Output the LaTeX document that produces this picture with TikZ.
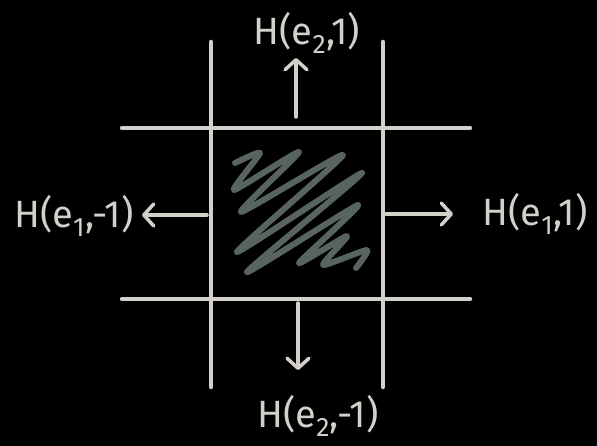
\documentclass[tikz,border=0pt]{standalone}
\usepackage{fontspec}
\setmainfont{Fira Sans}
\usetikzlibrary{arrows.meta}
\definecolor{chalk}{HTML}{D3D0C9}
\definecolor{scrib}{HTML}{586462}
\tikzset{
  gridline/.style={draw=chalk, line width=4.5pt, line cap=round},
  arr/.style={draw=chalk, line width=3.5pt, line cap=round, -{Straight Barb[length=10pt,width=22pt,line width=3.5pt,round]}},
  lbl/.style={text=chalk, font=\fontsize{38}{38}\selectfont, inner sep=0pt},
  scribble/.style={draw=scrib, line width=6pt, line cap=round, line join=round}
}
\begin{document}
\begin{tikzpicture}[x=1pt,y=-1pt]
\fill[black] (0,0) rectangle (597,446);
\useasboundingbox (0,0) rectangle (597,446);
% grid
\coordinate (vlT) at (211,42); \coordinate (vlB) at (211,387);
\coordinate (vrT) at (383,42); \coordinate (vrB) at (383,387);
\coordinate (htL) at (122,128); \coordinate (htR) at (470,128);
\coordinate (hbL) at (122,299); \coordinate (hbR) at (470,299);
\draw[gridline] (vlT) -- (vlB);
\draw[gridline] (vrT) -- (vrB);
\draw[gridline] (htL) -- (htR);
\draw[gridline] (hbL) -- (hbR);
% scribble
\draw[scribble] plot[smooth, tension=0.35] coordinates {(235,163) (260,153) (234,190) (299,152) (241,212) (343,155)
  (237,252) (362,173) (247,272) (358,205) (299,263) (347,236)
  (323,265) (367,250) (356,268)};
% labels
\node[lbl] (top) at (307,33) {H(e\textsubscript{2},1)};
\node[lbl] (bot) at (318,416) {H(e\textsubscript{2},-1)};
\node[lbl] (left) at (74,216) {H(e\textsubscript{1},-1)};
\node[lbl] (right) at (535,214) {H(e\textsubscript{1},1)};
% arrows
\coordinate (tS) at (296,117); \coordinate (tE) at (296,58);
\coordinate (bS) at (298,303); \coordinate (bE) at (298,370);
\coordinate (lS) at (207,215); \coordinate (lE) at (142,215);
\coordinate (rS) at (386,214); \coordinate (rE) at (453,214);
\draw[arr] (tS) -- (tE);
\draw[arr] (bS) -- (bE);
\draw[arr] (lS) -- (lE);
\draw[arr] (rS) -- (rE);
\end{tikzpicture}
\end{document}
